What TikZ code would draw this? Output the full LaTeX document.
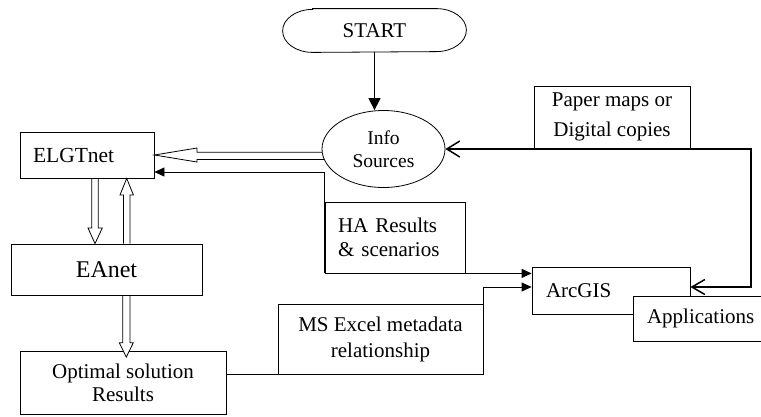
\documentclass[tikz,border=0pt]{standalone}
\usepackage{fontspec}
\setmainfont{Liberation Serif}
\usetikzlibrary{arrows.meta,shapes.geometric,calc}
\begin{document}
\begin{tikzpicture}[x=1pt,y=-1pt,
  box/.style={draw=black, line width=0.8pt, fill=white, inner sep=0pt, font=\fontsize{21}{24}\selectfont},
  lbox/.style={box, align=left},
  cbox/.style={box, align=center},
  hollow/.style={draw=black, line width=0.8pt},
  line/.style={draw=black, line width=0.8pt},
  fillarrow/.style={line, -{Triangle[length=10pt,width=9pt]}},
  bararrow/.style={draw=black, line width=1.5pt, {Straight Barb[length=13pt,width=16pt]}-{Straight Barb[length=13pt,width=15pt]}}
]
\fill[white] (0,0) rectangle (761,416);
\useasboundingbox (0,0) rectangle (761,416);

% nodes
\node[cbox, draw=none, fill=none, minimum width=183pt, minimum height=43pt] (start) at (374.5,30.5) {START};
\draw[line] ($(start.north west)+(30,0)$) -- ($(start.north east)+(-30,0)$)
  arc[start angle=-90,end angle=90,x radius=30,y radius=21.5]
  -- ($(start.south west)+(30,0)$)
  arc[start angle=90,end angle=270,x radius=30,y radius=21.5] -- cycle;

\node[cbox, ellipse, minimum width=123pt, minimum height=77pt, font=\fontsize{19.5}{23.5}\selectfont] (info) at (383.5,149) {Info\\Sources};
\node[lbox, text width=108pt, inner xsep=13pt, minimum height=46pt, font=\fontsize{21.5}{24}\selectfont] (elgt) at (87,155) {ELGTnet};
\node[cbox, minimum width=191pt, minimum height=51pt, font=\fontsize{24}{28}\selectfont] (eanet) at (106.5,269.5) {EAnet};
\node[cbox, minimum width=206pt, minimum height=63pt, font=\fontsize{21}{23}\selectfont] (opt) at (123,383) {Optimal solution\\Results};
\node[cbox, minimum width=156pt, minimum height=62pt, font=\fontsize{21}{29.5}\selectfont] (paper) at (612,117) {Paper maps or\\Digital copies};
\node[lbox, text width=114pt, inner xsep=13pt, minimum height=71pt, font=\fontsize{21}{24}\selectfont] (ha) at (395,237.5) {HA Results\\\& scenarios};
\node[cbox, minimum width=205pt, minimum height=70pt, font=\fontsize{21}{26}\selectfont] (excel) at (380.5,339) {MS Excel metadata\\relationship};
\node[lbox, text width=130pt, inner xsep=14pt, minimum height=47pt] (arcgis) at (611,290.5) {ArcGIS};
\node[lbox, text width=115pt, inner xsep=14pt, minimum height=45pt] (apps) at (704.5,318.5) {Applications};

% connectors
\draw[line width=1.4pt, -{Triangle[length=12pt,width=12pt]}] (start.south) -- (start.south |- info.north);

\draw[hollow] (info.183) -- (197,0 |- info.183) -- (197,148) -- (elgt.east) -- (197,162) -- (197,0 |- info.190) -- (info.190);

\draw[fillarrow] (ha.south west) -- (ha.south west |- 0,172) -- (elgt.east |- 0,172);
\draw[fillarrow] (ha.south west) -- (arcgis.west |- ha.south);
\draw[fillarrow] (opt.east |- excel.south) -- (excel.south east) -- (excel.south east |- 0,287) -- (arcgis.west |- 0,287);
\draw[bararrow] (info.east) -- (751,0 |- info.east) -- (751,287) -- (arcgis.east |- 0,287);

\draw[hollow] (91.7,0 |- elgt.south) -- (91.7,228) -- (88,228) -- (95,0 |- eanet.north) -- (102.3,228) -- (98.3,228) -- (98.3,0 |- elgt.south);
\draw[hollow] (123.4,0 |- eanet.north) -- (123.4,195) -- (120,195) -- (126.7,0 |- elgt.south) -- (133.4,195) -- (130,195) -- (130,0 |- eanet.north);
\fill[white] (119.3,342.7) -- ($(126.3,0 |- opt.north)+(0,6)$) -- (133.3,342.7) -- cycle;
\draw[hollow] (122.7,0 |- eanet.south) -- (122.7,342.7) -- (119.3,342.7) -- ($(126.3,0 |- opt.north)+(0,6)$) -- (133.3,342.7) -- (130,342.7) -- (130,0 |- eanet.south);
\end{tikzpicture}
\end{document}
